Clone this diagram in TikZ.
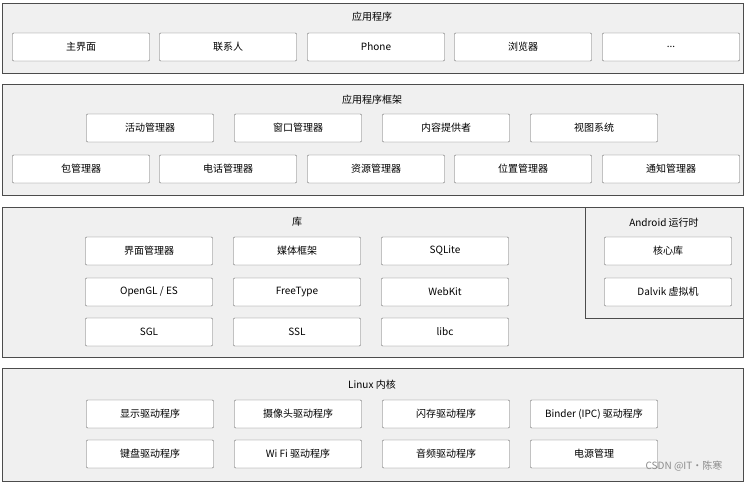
\documentclass[tikz,border=0pt]{standalone}
\usepackage{fontspec}
\setmainfont{Noto Sans CJK SC}
\tikzstyle{layer}=[draw=black!70,fill=black!6,line width=0.8pt]
\tikzstyle{wide}=[draw=black!60,fill=white,rounded corners=1pt,minimum width=137pt,minimum height=28pt,font=\fontsize{10}{12}\selectfont,inner sep=0pt]
\tikzstyle{part}=[wide,minimum width=127pt]
\tikzstyle{title}=[font=\fontsize{10}{12}\selectfont]

\begin{document}
\begin{tikzpicture}[x=1pt,y=-1pt]
                  \useasboundingbox (0,0) rectangle (745,483);
                  \draw [layer] (2,3) rectangle (743,73);
                  \draw [layer] (2,84) rectangle (743,195);
                  \draw [layer] (2,207) rectangle (743,357);
                  \draw [layer] (585,207) rectangle (743,318);
                  \draw [layer] (2,368) rectangle (743,481);

                  % applications
                  \node (apps) at (372,17) [title] {应用程序};
                  \node (a1) at (81,47) [wide] {主界面};
                  \node (a2) at (228,47) [wide] {联系人};
                  \node (a3) at (376,47) [wide] {Phone};
                  \node (a4) at (523,47) [wide] {浏览器};
                  \node (a5) at (671,47) [wide] {...};

                  % framework
                  \node (fw) at (372,100) [title] {应用程序框架};
                  \node (f1) at (150,128) [part] {活动管理器};
                  \node (f2) at (298,128) [part] {窗口管理器};
                  \node (f3) at (446,128) [part] {内容提供者};
                  \node (f4) at (594,128) [part] {视图系统};
                  \node (f5) at (81,169) [wide] {包管理器};
                  \node (f6) at (228,169) [wide] {电话管理器};
                  \node (f7) at (376,169) [wide] {资源管理器};
                  \node (f8) at (523,169) [wide] {位置管理器};
                  \node (f9) at (671,169) [wide] {通知管理器};

                  % libraries
                  \node (lib) at (297,222) [title] {库};
                  \node (l1) at (149,251) [part] {界面管理器};
                  \node (l2) at (297,251) [part] {媒体框架};
                  \node (l3) at (445,251) [part] {SQLite};
                  \node (l4) at (149,292) [part] {OpenGL / ES};
                  \node (l5) at (297,292) [part] {FreeType};
                  \node (l6) at (445,292) [part] {WebKit};
                  \node (l7) at (149,332) [part] {SGL};
                  \node (l8) at (297,332) [part] {SSL};
                  \node (l9) at (445,332) [part] {libc};

                  % runtime
                  \node (rt) at (664,223) [title] {Android 运行时};
                  \node (r1) at (668,251) [part] {核心库};
                  \node (r2) at (668,292) [part] {Dalvik 虚拟机};

                  % kernel
                  \node (kn) at (372,385) [title] {Linux 内核};
                  \node (k1) at (150,414) [part] {显示驱动程序};
                  \node (k2) at (298,414) [part] {摄像头驱动程序};
                  \node (k3) at (446,414) [part] {闪存驱动程序};
                  \node (k4) at (594,414) [part] {Binder (IPC) 驱动程序};
                  \node (k5) at (150,454) [part] {键盘驱动程序};
                  \node (k6) at (298,454) [part] {Wi Fi 驱动程序};
                  \node (k7) at (446,454) [part] {音频驱动程序};
                  \node (k8) at (594,454) [part] {电源管理};

                  \node (mark) at (684,466) [font=\fontsize{10}{12}\selectfont,text=black!45] {CSDN @IT·陈寒};
              \end{tikzpicture}
\end{document}
